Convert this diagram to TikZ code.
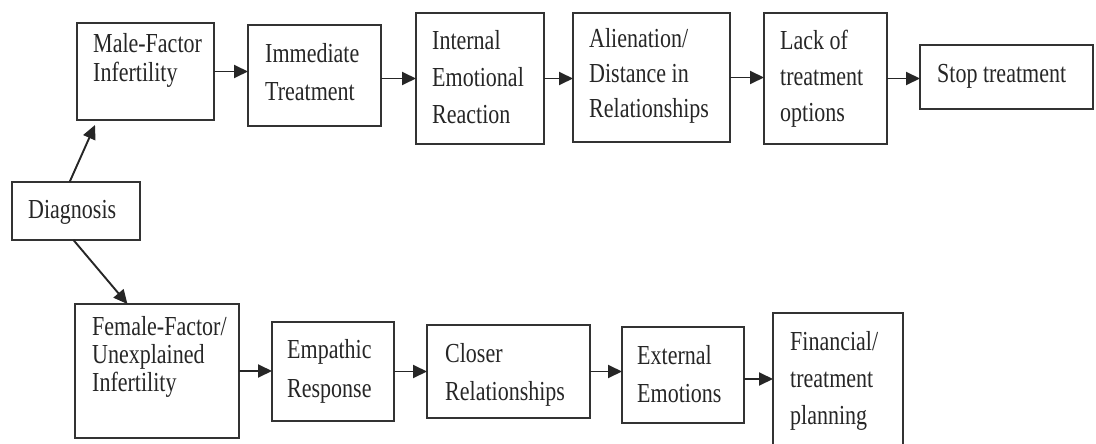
\documentclass[tikz,border=0pt]{standalone}
\usepackage{fontspec}
\setmainfont{Liberation Serif}
\usepackage{graphicx}
\usetikzlibrary{arrows.meta,calc}
\newcommand\mlines[2]{\scalebox{1}[1.25]{\fontsize{22}{#1}\selectfont\begin{tabular}[t]{@{}l@{}}#2\end{tabular}}}
\begin{document}
\begin{tikzpicture}[x=1pt,y=-1pt,
  box/.style={draw=black!80, line width=2pt, rectangle, inner sep=0pt, outer sep=0pt, anchor=north west},
  txt/.style={anchor=base west, inner sep=0pt, text=black!85},
  arr/.style={line width=1.9pt, draw=black!85, -{Triangle[length=14pt,width=13pt]}}]
\fill[white] (0,0) rectangle (1096,444);
\useasboundingbox (0,0) rectangle (1096,444);
\clip (0,0) rectangle (1096,444);
% boxes
\node[box, minimum width=137pt, minimum height=97pt]  (male) at (77,23) {};
\node[box, minimum width=133pt, minimum height=101pt] (imm)  at (248,25) {};
\node[box, minimum width=128pt, minimum height=131pt] (int)  at (416,13) {};
\node[box, minimum width=157pt, minimum height=129pt] (ali)  at (573,13) {};
\node[box, minimum width=123pt, minimum height=131pt] (lack) at (764,13) {};
\node[box, minimum width=173pt, minimum height=64pt]  (stop) at (920,45) {};
\node[box, minimum width=128pt, minimum height=58pt]  (diag) at (12,182) {};
\node[box, minimum width=164pt, minimum height=134pt] (fem)  at (75,304) {};
\node[box, minimum width=122pt, minimum height=99pt]  (emp)  at (272,322) {};
\node[box, minimum width=163pt, minimum height=93pt]  (clo)  at (427,325) {};
\node[box, minimum width=122pt, minimum height=96pt]  (ext)  at (622,327) {};
\node[box, minimum width=130pt, minimum height=160pt] (fin)  at (773,313) {};
% texts
\node[txt] (male-t) at (93,53)  {\mlines{23.2}{Male-Factor\\Infertility}};
\node[txt] (imm-t)  at (265,63) {\mlines{30.4}{Immediate\\Treatment}};
\node[txt] (int-t)  at (432,50) {\mlines{29.6}{Internal\\Emotional\\Reaction}};
\node[txt] (ali-t)  at (589,48) {\mlines{28}{Alienation/\\Distance in\\Relationships}};
\node[txt] (lack-t) at (780,50) {\mlines{28.8}{Lack of\\treatment\\options}};
\node[txt] (stop-t) at (937,83) {\mlines{28}{Stop treatment}};
\node[txt] (diag-t) at (28,218) {\mlines{28}{Diagnosis}};
\node[txt] (fem-t)  at (92,335) {\mlines{22.4}{Female-Factor/\\Unexplained\\Infertility}};
\node[txt] (emp-t)  at (287,358) {\mlines{31.2}{Empathic\\Response}};
\node[txt] (clo-t)  at (445,362) {\mlines{30.4}{Closer\\Relationships}};
\node[txt] (ext-t)  at (637,364) {\mlines{30.4}{External\\Emotions}};
\node[txt] (fin-t)  at (790,350) {\mlines{29.6}{Financial/\\treatment\\planning}};
% connectors
\draw[arr] (male.east) -- (imm.west |- male.east);
\draw[arr] (imm.east |- int.west) -- (int.west);
\draw[arr] (int.east) -- (ali.west |- int.east);
\draw[arr] (ali.east) -- (lack.west |- ali.east);
\draw[arr] (lack.east) -- (stop.west |- lack.east);
\draw[arr] (fem.east) -- (emp.west |- fem.east);
\draw[arr] (emp.east) -- (clo.west |- emp.east);
\draw[arr] (clo.east) -- (ext.west |- clo.east);
\draw[arr] ([yshift=-4pt]ext.east) -- ([yshift=-4pt]fin.west |- ext.east);
\draw[arr] ($(diag.north west)!0.45!(diag.north east)$) -- ([shift={(18,5)}]male.south west);
\draw[arr] ($(diag.south west)!0.48!(diag.south east)$) -- ($(fem.north west)!0.32!(fem.north east)$);
\end{tikzpicture}
\end{document}
